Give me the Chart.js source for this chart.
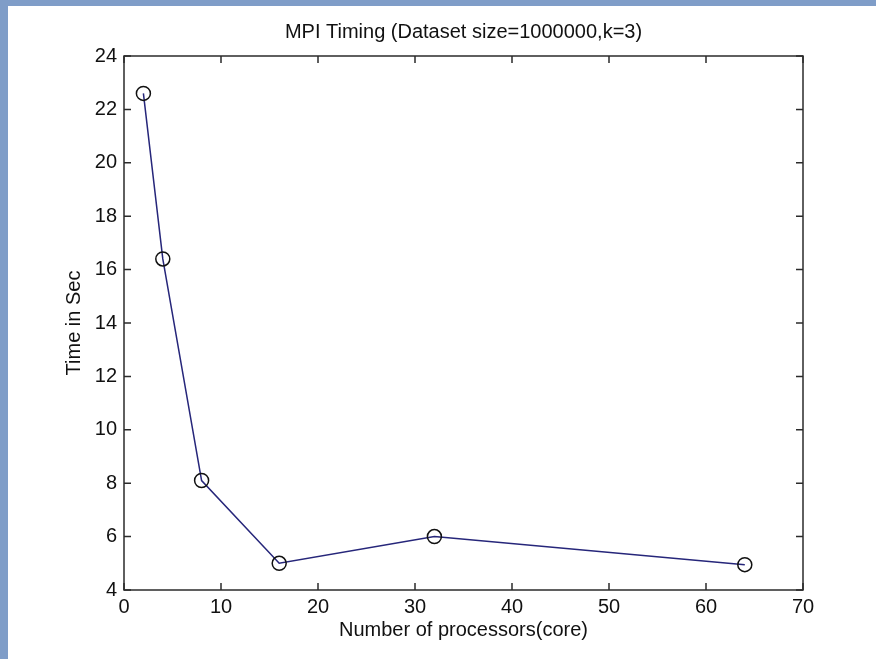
<!DOCTYPE html>
<html>
<head>
<meta charset="utf-8">
<script src="https://cdn.jsdelivr.net/npm/chart.js@4.4.0/dist/chart.umd.min.js"></script>
<style>
    body { margin: 0; background: #fff; }
    #wrap { position: relative; width: 876px; height: 659px; overflow: hidden; }
    #mpiChart { position: absolute; left: 0; top: 0; }
    .strip { position: absolute; background: #7f9dc8; }
</style>
</head>
<body>
<div id="wrap">
    <canvas id="mpiChart" width="876" height="659"></canvas>
    <div class="strip" style="left:0;top:0;width:876px;height:6px;"></div>
    <div class="strip" style="left:0;top:0;width:8px;height:659px;"></div>
</div>
<script>
// Processors vs. time
const processors = [2, 4, 8, 16, 32, 64];
const timeSec = [22.6, 16.4, 8.1, 5.0, 6.0, 4.95];
const xTicks = [0, 10, 20, 30, 40, 50, 60, 70];
const yTicks = [4, 6, 8, 10, 12, 14, 16, 18, 20, 22, 24];

document.addEventListener("DOMContentLoaded", function () {
    const ctx = document.getElementById("mpiChart").getContext("2d");
    const font = { family: "Arial, 'Liberation Sans', sans-serif", size: 20, weight: "normal" };

    // MATLAB style box with inward tick marks on all four sides
    const boxTicks = {
        id: "boxTicks",
        afterDraw(chart) {
            const c = chart.ctx;
            const a = chart.chartArea;
            const xs = chart.scales.x, ys = chart.scales.y;
            const len = 7;
            c.save();
            c.strokeStyle = "#2b2b2b";
            c.lineWidth = 1.5;
            c.beginPath();
            xTicks.forEach(function (v) {
                const px = xs.getPixelForValue(v);
                c.moveTo(px, a.bottom); c.lineTo(px, a.bottom - len);
                c.moveTo(px, a.top); c.lineTo(px, a.top + len);
            });
            yTicks.forEach(function (v) {
                const py = ys.getPixelForValue(v);
                c.moveTo(a.left, py); c.lineTo(a.left + len, py);
                c.moveTo(a.right, py); c.lineTo(a.right - len, py);
            });
            c.stroke();
            c.strokeRect(a.left, a.top, a.right - a.left, a.bottom - a.top);
            c.restore();
        }
    };

    new Chart(ctx, {
        type: "line",
        data: {
            datasets: [
                {
                    data: processors.map((p, i) => ({ x: p, y: timeSec[i] })),
                    borderColor: "#26267a",
                    borderWidth: 1.5,
                    tension: 0,
                    pointStyle: "circle",
                    pointRadius: 7,
                    pointBorderColor: "#111",
                    pointBorderWidth: 1.5,
                    pointBackgroundColor: "rgba(0,0,0,0)",
                    fill: false,
                },
            ],
        },
        options: {
            responsive: false,
            animation: false,
            layout: { padding: { left: 0, right: 73, top: 0, bottom: 0 } },
            plugins: {
                legend: { display: false },
                tooltip: { enabled: false },
                title: {
                    display: true,
                    fullSize: false,
                    text: "MPI Timing (Dataset size=1000000,k=3)",
                    color: "#111",
                    font: font,
                    padding: { top: 20, bottom: 12 },
                },
            },
            scales: {
                x: {
                    type: "linear",
                    min: 0,
                    max: 70,
                    afterFit: function (scale) { scale.height = 69; },
                    afterBuildTicks: function (scale) {
                        scale.ticks = xTicks.map(v => ({ value: v }));
                    },
                    grid: { display: false, drawTicks: false },
                    border: { display: false },
                    ticks: { color: "#111", font: font, padding: 5, maxRotation: 0 },
                    title: {
                        display: true,
                        text: "Number of processors(core)",
                        color: "#111",
                        font: font,
                        padding: { top: 0, bottom: 17 },
                    },
                },
                y: {
                    min: 4,
                    max: 24,
                    afterFit: function (scale) { scale.width = 124; },
                    afterBuildTicks: function (scale) {
                        scale.ticks = yTicks.map(v => ({ value: v }));
                    },
                    grid: { display: false, drawTicks: false },
                    border: { display: false },
                    ticks: { color: "#111", font: font, padding: 7 },
                    title: {
                        display: true,
                        text: "Time in Sec",
                        color: "#111",
                        font: font,
                        padding: { top: 62, bottom: 0 },
                    },
                },
            },
        },
        plugins: [boxTicks],
    });
});
</script>
</body>
</html>
